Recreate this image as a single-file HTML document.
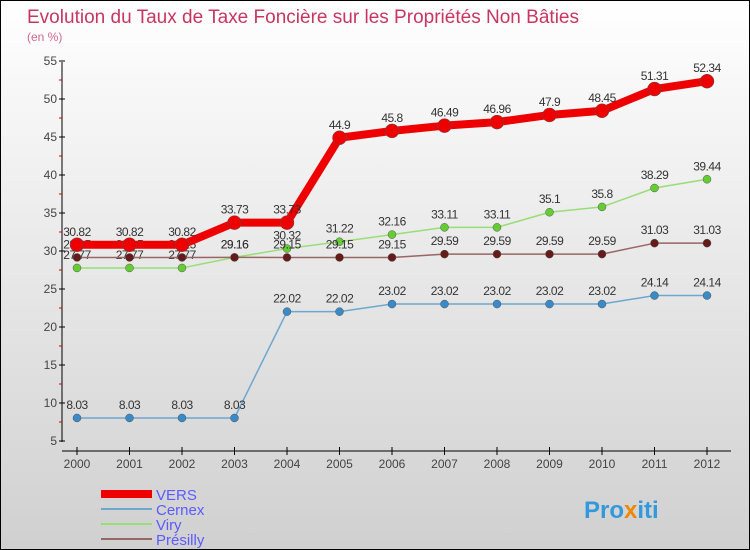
<!DOCTYPE html>
<html><head><meta charset="utf-8"><style>
body{margin:0}
#c{position:relative;width:748px;height:548px;border:1px solid #000;background:linear-gradient(#ffffff,#ececec 40%,#d0d0d0);font-family:"Liberation Sans",sans-serif;overflow:hidden}
svg text{font-family:"Liberation Sans",sans-serif}
</style></head><body>
<div id="c">
<svg id="s" width="748" height="548">
<text x="26" y="22" font-size="19" fill="#c8365f" textLength="552">Evolution du Taux de Taxe Foncière sur les Propriétés Non Bâties</text>
<text x="26" y="40" font-size="12" fill="#d0688a">(en %)</text>
<g id="legend">
<rect x="100" y="489" width="51" height="8" fill="#ee0000"/>
<text x="155" y="499" font-size="15" fill="#5b5bff">VERS</text>
<rect x="100" y="507" width="51" height="2" fill="#6ca7cf"/>
<text x="155" y="514" font-size="15" fill="#5b5bff">Cernex</text>
<rect x="100" y="522" width="51" height="2" fill="#99dd77"/>
<text x="155" y="529" font-size="15" fill="#5b5bff">Viry</text>
<rect x="100" y="537" width="51" height="2" fill="#996666"/>
<text x="155" y="544" font-size="15" fill="#5b5bff">Présilly</text>
</g>
<text x="583" y="517" font-size="24" font-weight="bold" fill="#3399dd">Pro<tspan fill="#ee8800">x</tspan>iti</text>
</svg>
</div>
<script>
const years=["2000","2001","2002","2003","2004","2005","2006","2007","2008","2009","2010","2011","2012"];
const yTicks=[5,10,15,20,25,30,35,40,45,50,55];
const vers=[30.82,30.82,30.82,33.73,33.73,44.9,45.8,46.49,46.96,47.9,48.45,51.31,52.34];
const cernex=[8.03,8.03,8.03,8.03,22.02,22.02,23.02,23.02,23.02,23.02,23.02,24.14,24.14];
const viry=[27.77,27.77,27.77,29.16,30.32,31.22,32.16,33.11,33.11,35.1,35.8,38.29,39.44];
const presilly=[29.15,29.15,29.15,29.16,29.15,29.15,29.15,29.59,29.59,29.59,29.59,31.03,31.03];
const svg=document.getElementById('s');const NS='http://www.w3.org/2000/svg';
function X(i){return 76+i*52.5}
function Y(v){return 440-(v-5)*7.6}
function mk(t,a,p){const e=document.createElementNS(NS,t);for(const k in a)e.setAttribute(k,a[k]);(p||svg).appendChild(e);return e}
const ax=mk('g',{});


let l=mk('line',{x1:61,y1:61,x2:61,y2:441,stroke:'#000'},ax);


l=mk('line',{x1:61,y1:450,x2:730,y2:450,stroke:'#000'},ax);


yTicks.forEach((v,i)=>{mk('line',{x1:58,x2:64,y1:Y(v),y2:Y(v),stroke:'#000'},ax);
if(i<yTicks.length-1)mk('line',{x1:58,x2:61,y1:Y(v+2.5),y2:Y(v+2.5),stroke:'#d00'},ax);
const t=mk('text',{x:56,y:Y(v)+4,'font-size':12,fill:'#444','text-anchor':'end'},ax);t.textContent=v;

});
years.forEach((y,i)=>{mk('line',{x1:X(i),x2:X(i),y1:446,y2:454,stroke:'#000'},ax);
const t=mk('text',{x:X(i),y:467,'font-size':12,fill:'#444','text-anchor':'middle'},ax);t.textContent=y;

});
function series(name,data,color,w,r,dot){const g=mk('g',{});


const p=mk('polyline',{points:data.map((v,i)=>X(i)+','+Y(v)).join(' '),fill:'none',stroke:color,'stroke-width':w,'stroke-linejoin':'round'},g);


data.forEach((v,i)=>{const c=mk('circle',{cx:X(i),cy:Y(v),r:r,fill:dot,stroke:'#555','stroke-width':0.5},g);


const t=mk('text',{x:X(i),y:Y(v)-9,'font-size':12,fill:'#333','text-anchor':'middle','letter-spacing':'-0.5'},g);t.textContent=v;

});}
series('cernex',cernex,'#6ca7cf',1.5,4,'#3a8ac8');
series('viry',viry,'#99dd77',1.5,4,'#66cc33');
series('presilly',presilly,'#996666',1.5,4,'#661a1a');
series('vers',vers,'#ee0000',8,7,'#ee0000');
</script>
</body></html>
